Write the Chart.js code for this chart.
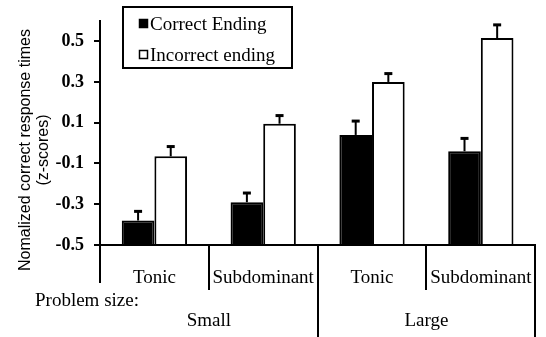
<!DOCTYPE html>
<html>
<head>
<meta charset="utf-8">
<script src="https://cdn.jsdelivr.net/npm/chart.js@4.4.0/dist/chart.umd.min.js"></script>
<style>
  body { margin: 0; background: #fff; }
  #wrap { width: 546px; height: 337px; }
</style>
</head>
<body>
<div id="wrap"><canvas id="chart" width="546" height="337"></canvas></div>
<script>
// data
const categories = ["Tonic", "Subdominant", "Tonic", "Subdominant"];
const problemSize = ["Small", "Small", "Large", "Large"];
const correctEnding = [-0.38, -0.29, 0.04, -0.04];
const incorrectEnding = [-0.065, 0.095, 0.30, 0.515];
const correctErr = [0.045, 0.045, 0.068, 0.063];
const incorrectErr = [0.048, 0.04, 0.041, 0.065];
const yTicks = [-0.5, -0.3, -0.1, 0.1, 0.3, 0.5];

const serif = "'Liberation Serif', 'Times New Roman', serif";
const sans = "'Liberation Sans', Arial, sans-serif";

// error bars, legend box, category dividers and extra labels
const decor = {
  id: "decor",
  afterDatasetsDraw(chart) {
    const ctx = chart.ctx;
    const y = chart.scales.y;
    const errs = [correctErr, incorrectErr];
    ctx.save();
    ctx.strokeStyle = "#000";
    chart.data.datasets.forEach((ds, di) => {
      chart.getDatasetMeta(di).data.forEach((bar, i) => {
        const top = y.getPixelForValue(ds.data[i] + errs[di][i]);
        ctx.lineWidth = 2;
        ctx.beginPath();
        ctx.moveTo(bar.x, bar.y);
        ctx.lineTo(bar.x, top);
        ctx.stroke();
        ctx.lineWidth = 3;
        ctx.beginPath();
        ctx.moveTo(bar.x - 4, top);
        ctx.lineTo(bar.x + 4, top);
        ctx.stroke();
      });
    });
    ctx.restore();
  },
  afterDraw(chart) {
    const ctx = chart.ctx;
    const x = chart.scales.x;
    const area = chart.chartArea;
    const w = (x.right - x.left) / categories.length;
    ctx.save();
    ctx.strokeStyle = "#000";
    ctx.fillStyle = "#000";
    ctx.lineWidth = 2;

    // dividers under the axis
    for (let k = 0; k <= categories.length; k++) {
      const px = Math.round(x.left + k * w);
      let bottom;
      if (k === 0) bottom = area.bottom + 38;
      else if (k === categories.length || problemSize[k] !== problemSize[k - 1]) bottom = chart.height;
      else bottom = area.bottom + 45;
      ctx.beginPath();
      ctx.moveTo(px, area.bottom);
      ctx.lineTo(px, bottom);
      ctx.stroke();
    }

    // group labels
    ctx.font = "19px " + serif;
    ctx.textAlign = "center";
    ctx.textBaseline = "middle";
    let start = 0;
    for (let k = 1; k <= categories.length; k++) {
      if (k === categories.length || problemSize[k] !== problemSize[start]) {
        const cx = x.left + ((start + k) / 2) * w;
        ctx.fillText(problemSize[start], cx, area.bottom + 76);
        start = k;
      }
    }
    ctx.textAlign = "left";
    ctx.fillText("Problem size:", 35, area.bottom + 56);

    // y title
    ctx.font = "16px " + sans;
    ctx.textAlign = "center";
    ctx.save();
    ctx.translate(26, 150);
    ctx.rotate(-Math.PI / 2);
    ctx.fillText("Nomalized correct response times", 0, 0);
    ctx.fillText("(z-scores)", 0, 18);
    ctx.restore();

    // legend
    ctx.lineWidth = 2;
    ctx.strokeRect(123, 7, 169, 61);
    ctx.font = "19px " + serif;
    ctx.textAlign = "left";
    ctx.textBaseline = "alphabetic";
    chart.data.datasets.forEach((ds, i) => {
      const ry = 19 + i * 31;
      ctx.fillStyle = ds.backgroundColor;
      ctx.fillRect(139, ry, 9, 9);
      ctx.lineWidth = 1.5;
      ctx.strokeRect(139.5, ry + 0.5, 8, 8);
      ctx.fillStyle = "#000";
      ctx.fillText(ds.label, 150, ry + 11);
    });
    ctx.restore();
  }
};

new Chart(document.getElementById("chart"), {
  type: "bar",
  data: {
    labels: categories,
    datasets: [
      {
        label: "Correct Ending",
        data: correctEnding,
        backgroundColor: "#000",
        borderColor: "#000",
        borderWidth: 2,
        base: -0.5
      },
      {
        label: "Incorrect ending",
        data: incorrectEnding,
        backgroundColor: "#fff",
        borderColor: "#000",
        borderWidth: 2,
        base: -0.5
      }
    ]
  },
  options: {
    responsive: false,
    animation: false,
    layout: { padding: { top: 19, right: 4, left: 0, bottom: 0 } },
    datasets: { bar: { categoryPercentage: 0.6, barPercentage: 1.0, borderSkipped: "bottom" } },
    plugins: {
      legend: { display: false },
      tooltip: { enabled: false }
    },
    scales: {
      x: {
        grid: { display: false },
        border: { display: true, color: "#000", width: 2 },
        ticks: { color: "#000", font: { family: serif, size: 19 }, padding: 14, maxRotation: 0 },
        afterFit: (s) => { s.height = 92; }
      },
      y: {
        min: -0.5,
        max: 0.6,
        afterBuildTicks: (s) => { s.ticks = yTicks.map((v) => ({ value: v })); },
        grid: { drawOnChartArea: false, tickLength: 6, color: "#000", lineWidth: 2 },
        border: { display: true, color: "#000", width: 2 },
        ticks: {
          color: "#000",
          padding: 10,
          font: { family: serif, size: 18, weight: "bold" },
          callback: (v) => v.toFixed(1)
        },
        afterFit: (s) => { s.width = 100; }
      }
    }
  },
  plugins: [decor]
});
</script>
</body>
</html>
